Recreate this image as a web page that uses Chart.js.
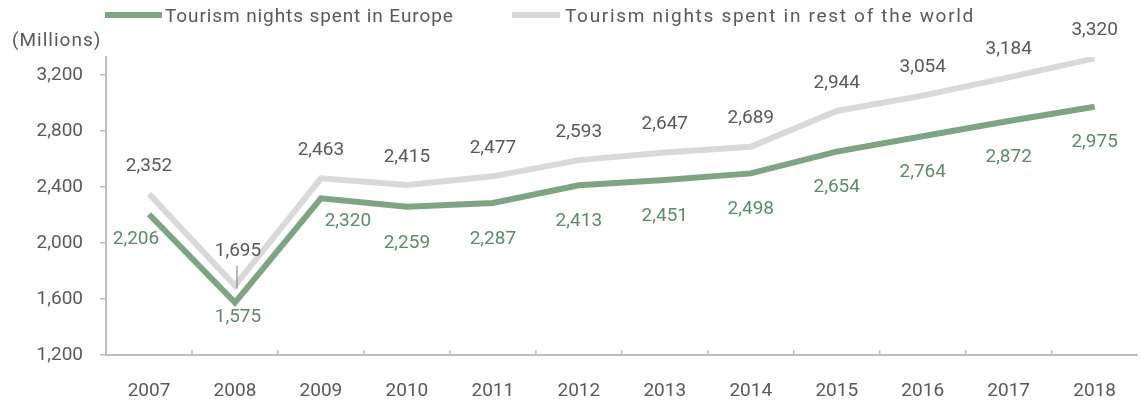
<!DOCTYPE html>
<html>
<head>
<meta charset="utf-8">
<script src="https://cdn.jsdelivr.net/npm/chart.js@4.4.1/dist/chart.umd.min.js"></script>
<style>
    html, body { margin: 0; padding: 0; background: #fff; }
    #wrap { width: 1141px; height: 404px; position: relative; }
</style>
</head>
<body>
<div id="wrap"><canvas id="bieudo"></canvas></div>
<script>
const years = ['2007', '2008', '2009', '2010', '2011', '2012', '2013', '2014', '2015', '2016', '2017', '2018'];
const europe = [2206, 1575, 2320, 2259, 2287, 2413, 2451, 2498, 2654, 2764, 2872, 2975];
const restOfWorld = [2352, 1695, 2463, 2415, 2477, 2593, 2647, 2689, 2944, 3054, 3184, 3320];
const yTicks = [1200, 1600, 2000, 2400, 2800, 3200];
const seriesNames = ['Tourism nights spent in Europe', 'Tourism nights spent in rest of the world'];
const unitLabel = '(Millions)';

const FONT = 'Roboto';
const xanh = '#7fa483';
const xam = '#d9d9d9';
const chu = '#595959';
const chuXanh = '#5b8a6c';
const truc = '#bfbfbf';

function fmt(v) {
    return v.toLocaleString('en-US');
}

// label position relative to its point: [dx, dy]
const labelShift = [
    { def: [0, 36], 0: [-13, 25], 1: [3, 15], 2: [27, 23] },
    { def: [0, -28], 1: [3, -34] }
];

const nhanSo = {
    id: 'nhanSo',
    afterDatasetsDraw(chart) {
        const ctx = chart.ctx;
        ctx.save();
        ctx.font = '19px ' + FONT;
        ctx.textAlign = 'center';
        ctx.textBaseline = 'middle';
        chart.data.datasets.forEach(function (ds, di) {
            const meta = chart.getDatasetMeta(di);
            meta.data.forEach(function (pt, i) {
                const s = labelShift[di][i] || labelShift[di].def;
                ctx.fillStyle = di === 0 ? chuXanh : chu;
                ctx.fillText(fmt(ds.data[i]), pt.x + s[0], pt.y + s[1]);
            });
        });
        // small leader under the 2008 label
        const p = chart.getDatasetMeta(1).data[1];
        ctx.strokeStyle = '#8c8c8c';
        ctx.lineWidth = 1.2;
        ctx.beginPath();
        ctx.moveTo(p.x + 2, p.y - 20);
        ctx.lineTo(p.x + 2, p.y + 3);
        ctx.stroke();
        ctx.restore();
    }
};

const khung = {
    id: 'khung',
    afterDraw(chart) {
        const ctx = chart.ctx;
        const x = chart.scales.x;
        const a = chart.chartArea;
        ctx.save();
        // inward tick marks between categories
        ctx.strokeStyle = truc;
        ctx.lineWidth = 1.5;
        for (let i = 1; i < years.length; i++) {
            const px = (x.getPixelForValue(i - 1) + x.getPixelForValue(i)) / 2;
            ctx.beginPath();
            ctx.moveTo(px, a.bottom - 5);
            ctx.lineTo(px, a.bottom);
            ctx.stroke();
        }
        // legend
        ctx.font = '19px ' + FONT;
        ctx.textBaseline = 'middle';
        ctx.textAlign = 'left';
        ctx.fillStyle = xanh;
        ctx.fillRect(105, 12, 57, 6);
        ctx.fillStyle = xam;
        ctx.fillRect(512, 12, 48, 6);
        ctx.fillStyle = chu;
        ctx.letterSpacing = '0.9px';
        ctx.fillText(seriesNames[0], 165, 17);
        ctx.letterSpacing = '1.7px';
        ctx.fillText(seriesNames[1], 565, 17);
        ctx.letterSpacing = '1px';
        ctx.fillText(unitLabel, 12, 41);
        ctx.restore();
    }
};

new Chart(document.getElementById('bieudo'), {
    type: 'line',
    data: {
        labels: years,
        datasets: [{
            label: seriesNames[0],
            data: europe,
            borderColor: xanh,
            backgroundColor: xanh,
            borderWidth: 6,
            pointRadius: 0,
            tension: 0
        }, {
            label: seriesNames[1],
            data: restOfWorld,
            borderColor: xam,
            backgroundColor: xam,
            borderWidth: 6,
            pointRadius: 0,
            tension: 0
        }]
    },
    options: {
        responsive: true,
        maintainAspectRatio: false,
        animation: false,
        layout: { padding: { top: 57, left: 0, right: 0, bottom: 0 } },
        plugins: {
            legend: { display: false },
            tooltip: { enabled: false }
        },
        scales: {
            x: {
                offset: true,
                grid: { display: false, drawTicks: false, offset: true },
                border: { color: truc, width: 2 },
                ticks: { color: chu, font: { family: FONT, size: 19 }, padding: 25, maxRotation: 0 },
                afterFit: function (s) { s.height = 49; }
            },
            y: {
                min: 1200,
                max: 3330,
                grid: { drawOnChartArea: false, tickLength: 6, color: truc, lineWidth: 1.5 },
                border: { color: truc, width: 2 },
                ticks: {
                    color: chu,
                    font: { family: FONT, size: 19 },
                    padding: 17,
                    callback: function (v) { return fmt(v); }
                },
                afterBuildTicks: function (s) {
                    s.ticks = yTicks.map(function (v) { return { value: v }; });
                },
                afterFit: function (s) { s.width = 106; }
            }
        }
    },
    plugins: [nhanSo, khung]
});
</script>
</body>
</html>
